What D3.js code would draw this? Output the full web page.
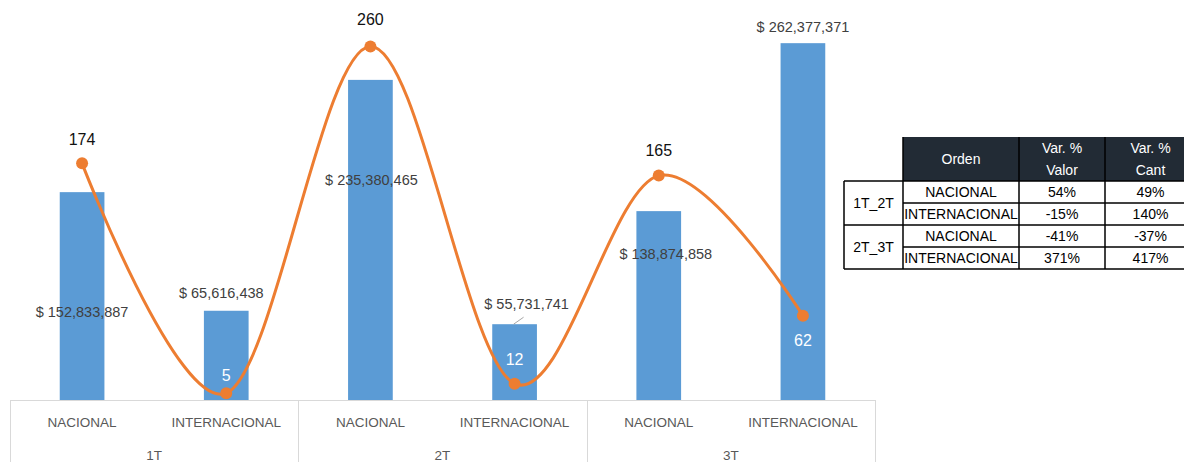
<!DOCTYPE html>
<html>
<head>
<meta charset="utf-8">
<script src="https://cdn.jsdelivr.net/npm/d3@7"></script>
<style>
  body { margin: 0; background: #fff; }
  svg { display: block; font-family: "Liberation Sans", Arial, sans-serif; }
</style>
</head>
<body>
<svg id="chart" width="1184" height="462"></svg>
<script>
// data
const trimestres = ["1T", "2T", "3T"];
const tipos = ["NACIONAL", "INTERNACIONAL"];
const valores = [152833887, 65616438, 235380465, 55731741, 138874858, 262377371];
const cantidades = [174, 5, 260, 12, 165, 62];

// label placement (excel labels were moved by hand)
const barLabelOffset = [[0, 120], [-5, -18], [1, 100], [12, -20], [7, 43], [0, -16]];
const lineLabelOffset = [-24, -18, -27, -24, -25, 25];
const lineLabelColor = ["#111", "#fff", "#111", "#fff", "#111", "#fff"];

const cats = [];
trimestres.forEach((t) => tipos.forEach((p) => cats.push({ t, p })));

const svg = d3.select("#chart");
const baseY = 400;

const x = d3.scaleBand().domain(d3.range(cats.length)).range([10, 875]).padding(0);
const y = d3.scaleLinear().domain([0, 300000000]).range([baseY, -8]);
const y2 = d3.scaleLinear().domain([0, 300]).range([baseY, -8]);
const barW = x.bandwidth() * 0.31;
const cx = (i) => x(i) + x.bandwidth() / 2;

// bars
svg
  .append("g")
  .selectAll("rect")
  .data(valores)
  .enter()
  .append("rect")
  .attr("x", (d, i) => cx(i) - barW / 2)
  .attr("y", (d) => y(d))
  .attr("width", barW)
  .attr("height", (d) => baseY - y(d))
  .attr("fill", "#5B9BD5");

// category axis (two levels)
const axis = svg.append("g").attr("stroke", "#D9D9D9").attr("stroke-width", 1);
axis
  .append("line")
  .attr("x1", 10)
  .attr("x2", 875)
  .attr("y1", baseY + 0.5)
  .attr("y2", baseY + 0.5);
[0, 2, 4, 6].forEach((i) => {
  const xx = i < 6 ? x(i) : 875;
  axis
    .append("line")
    .attr("x1", Math.round(xx) + 0.5)
    .attr("x2", Math.round(xx) + 0.5)
    .attr("y1", baseY)
    .attr("y2", 462);
});

svg
  .append("g")
  .selectAll("text")
  .data(cats)
  .enter()
  .append("text")
  .attr("x", (d, i) => cx(i))
  .attr("y", 427)
  .attr("text-anchor", "middle")
  .attr("font-size", "13.5px")
  .attr("fill", "#595959")
  .text((d) => d.p);

svg
  .append("g")
  .selectAll("text")
  .data(trimestres)
  .enter()
  .append("text")
  .attr("x", (d, i) => x(i * 2) + x.bandwidth())
  .attr("y", 460)
  .attr("text-anchor", "middle")
  .attr("font-size", "13.5px")
  .attr("fill", "#595959")
  .text((d) => d);

// bar labels
const fmtMoney = (v) => "$ " + d3.format(",")(v);
svg
  .append("g")
  .selectAll("text")
  .data(valores)
  .enter()
  .append("text")
  .attr("x", (d, i) => cx(i) + barLabelOffset[i][0])
  .attr("y", (d, i) => y(d) + barLabelOffset[i][1])
  .attr("dy", "0.35em")
  .attr("text-anchor", "middle")
  .attr("font-size", "14.5px")
  .attr("fill", "#404040")
  .text(fmtMoney);

// leader line for the 2T internacional label
svg
  .append("line")
  .attr("x1", cx(3) - 1)
  .attr("y1", y(valores[3]))
  .attr("x2", cx(3) + 9)
  .attr("y2", y(valores[3]) - 7)
  .attr("stroke", "#A6A6A6")
  .attr("stroke-width", 1);

// line series
const line = d3
  .line()
  .x((d, i) => cx(i))
  .y((d) => y2(d))
  .curve(d3.curveCardinal.tension(0));

svg
  .append("path")
  .datum(cantidades)
  .attr("d", line)
  .attr("fill", "none")
  .attr("stroke", "#ED7D31")
  .attr("stroke-width", 3)
  .attr("stroke-linecap", "round");

svg
  .append("g")
  .selectAll("circle")
  .data(cantidades)
  .enter()
  .append("circle")
  .attr("cx", (d, i) => cx(i))
  .attr("cy", (d) => y2(d))
  .attr("r", 6)
  .attr("fill", "#ED7D31");

svg
  .append("g")
  .selectAll("text")
  .data(cantidades)
  .enter()
  .append("text")
  .attr("x", (d, i) => cx(i))
  .attr("y", (d, i) => y2(d) + lineLabelOffset[i])
  .attr("dy", "0.35em")
  .attr("text-anchor", "middle")
  .attr("font-size", "16px")
  .attr("fill", (d, i) => lineLabelColor[i])
  .text((d) => d);

// variation table
const pct = (v) => Math.round(v * 100) + "%";
const filas = [];
["1T_2T", "2T_3T"].forEach((per, k) => {
  tipos.forEach((tp, j) => {
    const a = k * 2 + j,
      b = (k + 1) * 2 + j;
    filas.push({
      per,
      tipo: tp,
      valor: pct(valores[b] / valores[a] - 1),
      cant: pct(cantidades[b] / cantidades[a] - 1),
    });
  });
});

const colX = [844, 903, 1019, 1105, 1196];
const rowY = [137, 181, 203, 225, 247, 269];
const tbl = svg.append("g").attr("font-size", "14px");

tbl
  .append("rect")
  .attr("x", colX[1])
  .attr("y", rowY[0])
  .attr("width", colX[4] - colX[1])
  .attr("height", rowY[1] - rowY[0])
  .attr("fill", "#222B35");

const head = [["Orden"], ["Var. %", "Valor"], ["Var. %", "Cant"]];
head.forEach((lines, c) => {
  const mx = (colX[c + 1] + colX[c + 2]) / 2;
  lines.forEach((s, l) => {
    tbl
      .append("text")
      .attr("x", mx)
      .attr("y", lines.length === 1 ? 159 : 148 + l * 22)
      .attr("dy", "0.35em")
      .attr("text-anchor", "middle")
      .attr("fill", "#fff")
      .text(s);
  });
});

filas.forEach((f, r) => {
  const yc = (rowY[r + 1] + rowY[r + 2]) / 2;
  [f.tipo, f.valor, f.cant].forEach((s, c) => {
    tbl
      .append("text")
      .attr("x", (colX[c + 1] + colX[c + 2]) / 2)
      .attr("y", yc)
      .attr("dy", "0.35em")
      .attr("text-anchor", "middle")
      .attr("fill", "#000")
      .text(s);
  });
});

["1T_2T", "2T_3T"].forEach((p, k) => {
  tbl
    .append("text")
    .attr("x", (colX[0] + colX[1]) / 2)
    .attr("y", rowY[1 + k * 2 + 1])
    .attr("dy", "0.35em")
    .attr("text-anchor", "middle")
    .attr("fill", "#000")
    .text(p);
});

// table borders
const bl = tbl.append("g").attr("stroke", "#000").attr("stroke-width", 1.5);
[1, 3, 5].forEach((r) => {
  bl.append("line").attr("x1", colX[0]).attr("x2", colX[4]).attr("y1", rowY[r]).attr("y2", rowY[r]);
});
[2, 4].forEach((r) => {
  bl.append("line").attr("x1", colX[1]).attr("x2", colX[4]).attr("y1", rowY[r]).attr("y2", rowY[r]);
});
colX.slice(0, 4).forEach((xx, c) => {
  bl.append("line")
    .attr("x1", xx)
    .attr("x2", xx)
    .attr("y1", c === 0 ? rowY[1] : rowY[0])
    .attr("y2", rowY[5]);
});
</script>
</body>
</html>
